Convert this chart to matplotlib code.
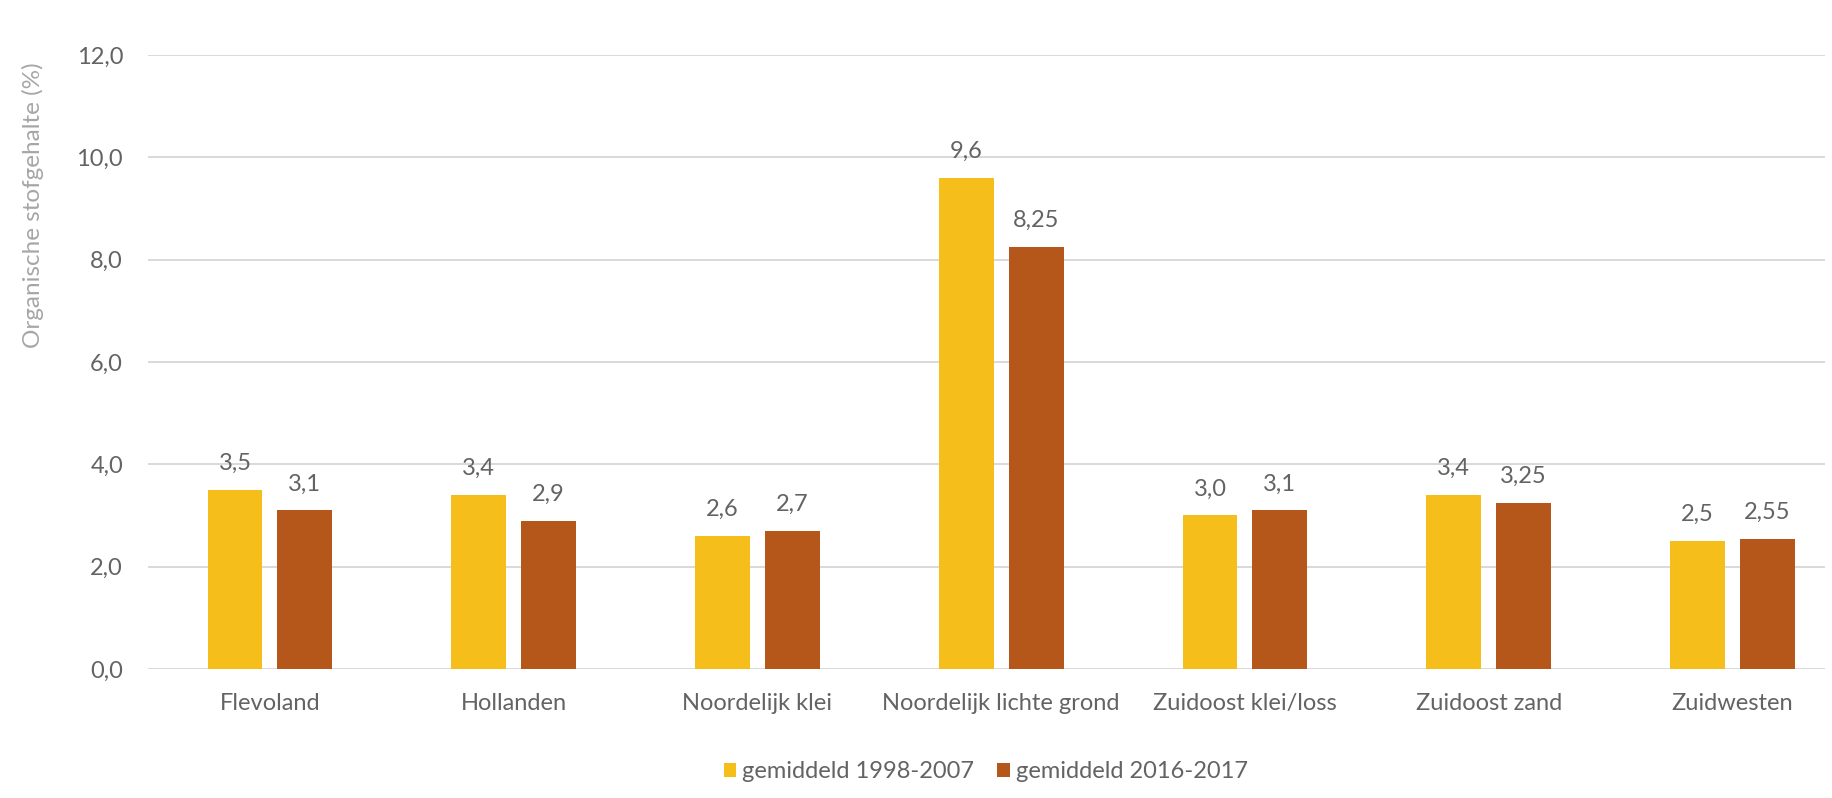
import numpy as np
import matplotlib.pyplot as plt

plt.rcParams['font.family'] = ['Lato', 'DejaVu Sans']

# gemiddeld organische stofgehalte per regio
regios = ['Flevoland', 'Hollanden', 'Noordelijk klei', 'Noordelijk lichte grond',
          'Zuidoost klei/loss', 'Zuidoost zand', 'Zuidwesten']
periode_oud = [3.5, 3.4, 2.6, 9.6, 3.0, 3.4, 2.5]
periode_nieuw = [3.1, 2.9, 2.7, 8.25, 3.1, 3.25, 2.55]
labels_oud = ['3,5', '3,4', '2,6', '9,6', '3,0', '3,4', '2,5']
labels_nieuw = ['3,1', '2,9', '2,7', '8,25', '3,1', '3,25', '2,55']
legenda = ['gemiddeld 1998-2007', 'gemiddeld 2016-2017']
yticks = [0, 2, 4, 6, 8, 10, 12]

geel = '#F5BE1B'
bruin = '#B5561A'
tekst = '#636363'
fs = 17

fig = plt.figure(figsize=(18.32, 7.98), dpi=100)
ax = fig.add_axes([0.0808, 0.1617, 0.9154, 0.7693])

x = np.arange(len(regios))
breedte = 0.225
afstand = 0.1435

b1 = ax.bar(x - afstand, periode_oud, breedte, color=geel, label=legenda[0], zorder=3)
b2 = ax.bar(x + afstand, periode_nieuw, breedte, color=bruin, label=legenda[1], zorder=3)

for bars, labels in [(b1, labels_oud), (b2, labels_nieuw)]:
    for bar, lab in zip(bars, labels):
        ax.annotate(lab, (bar.get_x() + bar.get_width() / 2, bar.get_height()),
                    xytext=(0, 19), textcoords='offset points',
                    ha='center', va='center', fontsize=fs, color=tekst)

ax.set_xlim(-0.5, 6.38)
ax.set_ylim(0, 12)
ax.set_yticks(yticks)
ax.set_yticklabels([f'{v:.1f}'.replace('.', ',') for v in yticks])
ax.set_xticks(x)
ax.set_xticklabels(regios)
ax.tick_params(axis='y', length=0, pad=18, labelsize=fs, labelcolor=tekst)
ax.tick_params(axis='x', length=0, pad=17, labelsize=fs, labelcolor=tekst)

ax.grid(axis='y', color='#D9D9D9', linewidth=1.4, zorder=0)
for s in ax.spines.values():
    s.set_visible(False)

ax.set_ylabel('Organische stofgehalte (%)', fontsize=17.5, color='#A6A6A6')
ax.yaxis.set_label_coords(-0.062, 0.755)

fig.legend(handles=[b1, b2], labels=legenda, loc='center',
           bbox_to_anchor=(0.538, 0.0326), ncol=2, frameon=False,
           fontsize=fs, labelcolor=tekst, handlelength=0.52, handleheight=0.52,
           handletextpad=0.25, columnspacing=1.0)

fig.savefig('out.png', dpi=100)
